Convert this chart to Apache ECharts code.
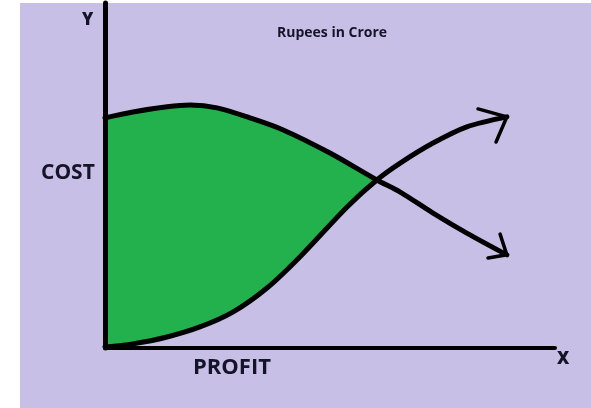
<!DOCTYPE html>
<html>
<head>
<meta charset="utf-8">
<script src="https://cdn.jsdelivr.net/npm/echarts@6/dist/echarts.min.js"></script>
<style>
html,body{margin:0;padding:0;background:#fff;}
#c{width:591px;height:408px;}
</style>
</head>
<body>
<div id="c"></div>
<script>
// Cost curve (upper, falling) points [x, y] in chart units (0-100)
var costX = [0, 6.2, 13.8, 18.9, 24.9, 32.2, 39.6, 50.0, 60.4, 65.6, 72.9, 80.4, 89.3];
var costY = [66.7, 68.4, 69.9, 70.4, 69.6, 66.7, 63.2, 56.5, 48.7, 45.2, 39.1, 33.3, 27.0];
// Profit curve (lower, rising)
var profitX = [0, 6.2, 13.8, 21.1, 28.4, 36.0, 43.3, 53.8, 60.4, 65.6, 72.9, 80.4, 89.3];
var profitY = [0.3, 1.2, 3.2, 6.1, 10.4, 17.4, 26.4, 40.9, 48.7, 53.6, 59.4, 64.1, 67.0];
// Crossing point index (shaded region ends here)
var crossCostIdx = 8;
var crossProfitIdx = 8;
// Arrow heads (wing, tip, wing)
var profitArrowX = [82.9, 89.3, 86.9];
var profitArrowY = [69.3, 67.0, 59.7];
var costArrowX = [87.8, 89.3, 85.1];
var costArrowY = [33.0, 27.0, 26.1];
// Labels
var titleText = 'Rupees in Crore';
var yName = 'Y';
var xName = 'X';
var costLabel = 'COST';
var profitLabel = 'PROFIT';

function pairs(xs, ys, n) {
  var out = [];
  var len = n == null ? xs.length : n;
  for (var i = 0; i < len; i++) out.push([xs[i], ys[i]]);
  return out;
}

var BG = '#c8bfe7';
var GREEN = '#22b14c';
var INK = '#141428';
var FONT = '"Open Sans", sans-serif';

var chart = echarts.init(document.getElementById('c'), null, {renderer: 'canvas'});
chart.setOption({
  backgroundColor: '#ffffff',
  animation: false,
  title: {
    text: titleText,
    left: 327, top: 21,
    textAlign: 'center',
    textStyle: {fontFamily: FONT, fontWeight: 'bold', fontSize: 14, color: INK}
  },
  grid: {left: 105, right: 36, top: 3, bottom: 60},
  xAxis: {
    type: 'value', min: 0, max: 100, z: 10,
    axisLine: {show: true, onZero: true, lineStyle: {color: '#000', width: 4}},
    axisTick: {show: false}, axisLabel: {show: false}, splitLine: {show: false}
  },
  yAxis: {
    type: 'value', min: 0, max: 100, z: 10,
    axisLine: {show: true, lineStyle: {color: '#000', width: 5}},
    axisTick: {show: false}, axisLabel: {show: false}, splitLine: {show: false}
  },
  graphic: [
    {type: 'rect', z: -100, silent: true, shape: {x: 20, y: 3, width: 571, height: 405}, style: {fill: BG}},
    {type: 'text', left: 82, top: 12, style: {text: yName, font: '800 17px ' + FONT, fill: INK}},
    {type: 'text', left: 557, top: 351, style: {text: xName, font: '800 17px ' + FONT, fill: INK}},
    {type: 'text', left: 41, top: 163, style: {text: costLabel, font: 'bold 21px ' + FONT, fill: INK}},
    {type: 'text', left: 193, top: 357, style: {text: profitLabel, font: 'bold 22px ' + FONT, fill: INK}}
  ],
  series: [
    {
      name: 'costFill', type: 'line', z: 1, smooth: 0.3, symbol: 'none', silent: true,
      data: pairs(costX, costY, crossCostIdx + 1),
      lineStyle: {width: 0, color: GREEN},
      areaStyle: {color: GREEN, opacity: 1}
    },
    {
      name: 'profitMask', type: 'line', z: 2, smooth: 0.3, symbol: 'none', silent: true,
      data: pairs(profitX, profitY, crossProfitIdx + 2),
      lineStyle: {width: 0, color: BG},
      areaStyle: {color: BG, opacity: 1}
    },
    {
      name: 'Cost', type: 'line', z: 3, smooth: 0.3, symbol: 'none',
      data: pairs(costX, costY),
      lineStyle: {width: 5, color: '#000', cap: 'round'}
    },
    {
      name: 'Profit', type: 'line', z: 3, smooth: 0.3, symbol: 'none',
      data: pairs(profitX, profitY),
      lineStyle: {width: 5, color: '#000', cap: 'round'}
    },
    {
      name: 'profitArrow', type: 'line', z: 3, symbol: 'none',
      data: pairs(profitArrowX, profitArrowY),
      lineStyle: {width: 3.5, color: '#000', cap: 'round', join: 'miter'}
    },
    {
      name: 'costArrow', type: 'line', z: 3, symbol: 'none',
      data: pairs(costArrowX, costArrowY),
      lineStyle: {width: 3.5, color: '#000', cap: 'round', join: 'miter'}
    }
  ]
});
</script>
</body>
</html>
